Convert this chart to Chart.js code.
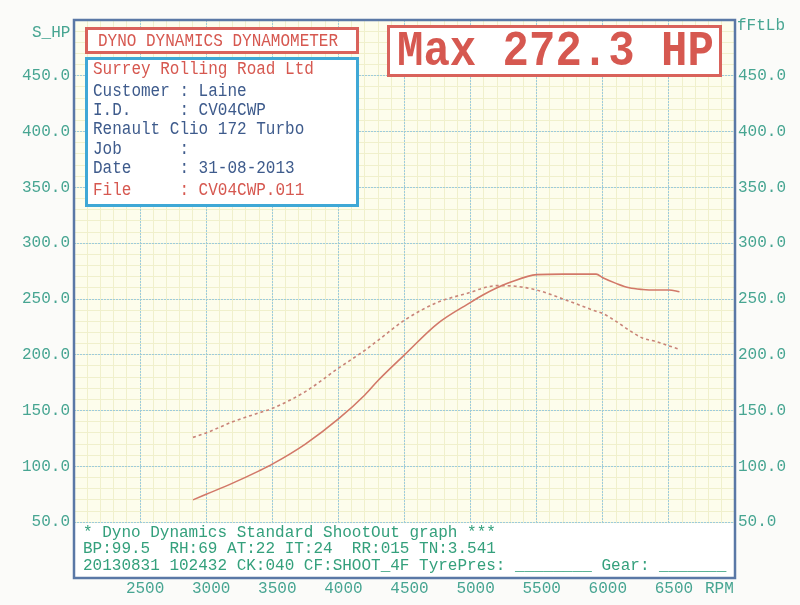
<!DOCTYPE html>
<html>
<head>
<meta charset="utf-8">
<script src="https://cdn.jsdelivr.net/npm/chart.js@4"></script>
<style>
html,body{margin:0;padding:0;background:#fbfbf9;}
#wrap{position:relative;width:800px;height:605px;overflow:hidden;}
#c{position:absolute;left:0;top:0;}
.t{position:absolute;font-family:"Liberation Mono","DejaVu Sans Mono",monospace;font-size:16px;line-height:16px;white-space:pre;}
.box{position:absolute;box-sizing:border-box;background:#ffffff;}
.red{color:#d65850;}
.blue{color:#3e5b8c;}
.teal{color:#47a592;}
.foot{color:#34a07c;}
.tall{transform:scaleY(1.12);transform-origin:0 50%;}
</style>
</head>
<body>
<div id="wrap">
<canvas id="c" width="800" height="605"></canvas>

<div class="t teal" style="left:32px;top:25px;">S_HP</div>
<div class="t teal" style="left:737px;top:18px;">fFtLb</div>
<div class="t teal" style="left:705px;top:581px;">RPM</div>

<div class="box" style="left:85px;top:27px;width:274px;height:27px;border:3px solid #d9625b;"></div>
<div class="t red tall" style="left:98px;top:34px;">DYNO DYNAMICS DYNAMOMETER</div>

<div class="box" style="left:85px;top:57px;width:274px;height:150px;border:3px solid #3fa8d6;"></div>
<div class="t red tall" style="left:93px;top:62px;">Surrey Rolling Road Ltd</div>
<div class="t blue tall" style="left:93px;top:84px;">Customer : Laine</div>
<div class="t blue tall" style="left:93px;top:103px;">I.D.     : CV04CWP</div>
<div class="t blue tall" style="left:93px;top:122px;">Renault Clio 172 Turbo</div>
<div class="t blue tall" style="left:93px;top:142px;">Job      :</div>
<div class="t blue tall" style="left:93px;top:161px;">Date     : 31-08-2013</div>
<div class="t red tall" style="left:93px;top:183px;">File     : CV04CWP.011</div>

<div class="box" style="left:387px;top:25px;width:335px;height:52px;border:3px solid #d9625b;"></div>
<div class="t red" style="left:397px;top:30px;font-size:44px;line-height:44px;font-weight:bold;transform:scaleY(1.12);transform-origin:0 50%;">Max 272.3 HP</div>

<div class="t foot" style="left:83px;top:525px;">* Dyno Dynamics Standard ShootOut graph ***</div>
<div class="t foot" style="left:83px;top:541px;">BP:99.5  RH:69 AT:22 IT:24  RR:015 TN:3.541</div>
<div class="t foot" style="left:83px;top:558px;">20130831 102432 CK:040 CF:SHOOT_4F TyrePres: ________ Gear: _______</div>
</div>

<script>
// ---- data read from the dyno sheet ----
const rpm        = [2900, 3000, 3200, 3400, 3500, 3750, 4000, 4200, 4300, 4500, 4750, 5000, 5100, 5200, 5300, 5500, 5700, 5950, 6000, 6100, 6200, 6300, 6400, 6500, 6580];
const powerHp    = [70, 75, 85, 96, 102, 120, 142.5, 164, 177, 200, 228, 247, 254, 260, 265, 271.8, 272.3, 272.3, 269, 264, 260, 258.5, 258, 258, 256.5];
const torqueFtLb = [126, 130, 140, 148, 152, 167, 188, 204, 213, 231, 247, 256, 260, 262, 261.8, 258, 250, 239, 237, 230, 222, 215, 212, 208, 205];
const rpmTicks   = [2500, 3000, 3500, 4000, 4500, 5000, 5500, 6000, 6500];
const valueTicks = [50, 100, 150, 200, 250, 300, 350, 400, 450];

const FONT = {family: '"Liberation Mono","DejaVu Sans Mono",monospace', size: 16};
const TICK_COLOR = '#47a592';

const bgPlugin = {
  id: 'bg',
  beforeDraw(chart) {
    const {ctx, chartArea: a} = chart;
    ctx.save();
    ctx.fillStyle = '#fdfdec';
    ctx.fillRect(a.left, a.top, a.right - a.left, a.bottom - a.top);
    ctx.restore();
  },
  beforeDatasetsDraw(chart) {
    const {ctx, chartArea: a, scales} = chart;
    const y50 = scales.y.getPixelForValue(50);
    ctx.save();
    ctx.fillStyle = '#ffffff';
    ctx.fillRect(a.left, y50 + 1, a.right - a.left, a.bottom - y50 - 1);
    ctx.restore();
  },
  afterDraw(chart) {
    const {ctx, chartArea: a} = chart;
    ctx.save();
    ctx.strokeStyle = '#5a78a6';
    ctx.lineWidth = 2.5;
    ctx.strokeRect(a.left, a.top, a.right - a.left, a.bottom - a.top);
    ctx.restore();
  }
};

new Chart(document.getElementById('c'), {
  type: 'line',
  data: {
    datasets: [
      {
        label: 'Power (HP)',
        data: rpm.map((r, i) => ({x: r, y: powerHp[i]})),
        borderColor: '#d27868',
        borderWidth: 1.6,
        pointRadius: 0,
        cubicInterpolationMode: 'monotone',
        yAxisID: 'y'
      },
      {
        label: 'Torque (ft-lb)',
        data: rpm.map((r, i) => ({x: r, y: torqueFtLb[i]})),
        borderColor: '#c98478',
        borderWidth: 1.6,
        borderDash: [3, 3],
        pointRadius: 0,
        cubicInterpolationMode: 'monotone',
        yAxisID: 'y2'
      }
    ]
  },
  options: {
    responsive: false,
    animation: false,
    layout: {padding: {top: 20, left: 0, right: 0, bottom: 0}},
    plugins: {legend: {display: false}, tooltip: {enabled: false}},
    scales: {
      xMinor: {
        type: 'linear', position: 'bottom', min: 2000, max: 7000,
        ticks: {display: false, stepSize: 100},
        grid: {color: '#f0f0cc', lineWidth: 1, drawTicks: false, z: -2},
        border: {display: false},
        afterFit(s) { s.height = 0; }
      },
      yMinor: {
        type: 'linear', position: 'left', min: 0, max: 500,
        ticks: {display: false, stepSize: 10},
        grid: {color: '#f0f0cc', lineWidth: 1, drawTicks: false, z: -2},
        border: {display: false},
        afterFit(s) { s.width = 0; }
      },
      x: {
        type: 'linear', position: 'bottom', min: 2000, max: 7000,
        afterBuildTicks(s) { s.ticks = [2000].concat(rpmTicks, [7000]).map(v => ({value: v})); },
        ticks: {
          autoSkip: false, maxRotation: 0, color: TICK_COLOR, font: FONT, padding: 1, labelOffset: 5,
          callback: v => rpmTicks.includes(v) ? String(v) : ''
        },
        grid: {color: '#9dcbdc', lineWidth: 1, drawTicks: false},
        border: {display: false, dash: [2, 1]},
        afterFit(s) { s.height = 27; }
      },
      y: {
        type: 'linear', position: 'left', min: 0, max: 500,
        afterBuildTicks(s) { s.ticks = [0].concat(valueTicks, [500]).map(v => ({value: v})); },
        ticks: {
          autoSkip: false, color: TICK_COLOR, font: FONT, padding: 4,
          callback: v => valueTicks.includes(v) ? v.toFixed(1) : ''
        },
        grid: {color: '#9dcbdc', lineWidth: 1, drawTicks: false},
        border: {display: false, dash: [2, 1]},
        afterFit(s) { s.width = 74; }
      },
      y2: {
        type: 'linear', position: 'right', min: 0, max: 500,
        afterBuildTicks(s) { s.ticks = [0].concat(valueTicks, [500]).map(v => ({value: v})); },
        ticks: {
          autoSkip: false, color: TICK_COLOR, font: FONT, padding: 3,
          callback: v => valueTicks.includes(v) ? v.toFixed(1) : ''
        },
        grid: {drawOnChartArea: false, drawTicks: false},
        border: {display: false},
        afterFit(s) { s.width = 65; }
      }
    }
  },
  plugins: [bgPlugin]
});
</script>
</body>
</html>
